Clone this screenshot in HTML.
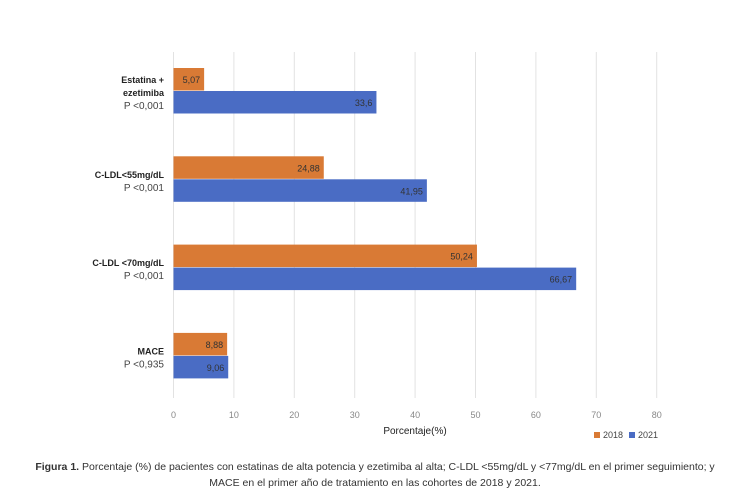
<!DOCTYPE html>
<html><head><meta charset="utf-8"><style>
body{margin:0;background:#fff;width:750px;height:500px;overflow:hidden;font-family:"Liberation Sans",sans-serif}
</style></head><body>
<svg width="750" height="500" style="position:absolute;left:0;top:0">
<g id="grid"></g><g id="bars"></g><g id="labels"></g>
<text x="415" y="434" font-size="10" text-anchor="middle" fill="#222">Porcentaje(%)</text>
<g>
<rect x="594" y="432" width="6" height="6" fill="#D97A35"/>
<text x="603" y="438" font-size="9" fill="#444">2018</text>
<rect x="629" y="432" width="6" height="6" fill="#4A6CC4"/>
<text x="638" y="438" font-size="9" fill="#444">2021</text>
</g>
<text x="375" y="470" font-size="10.5" text-anchor="middle" fill="#333"><tspan font-weight="bold">Figura 1.</tspan> Porcentaje (%) de pacientes con estatinas de alta potencia y ezetimiba al alta; C-LDL &lt;55mg/dL y &lt;77mg/dL en el primer seguimiento; y</text>
<text x="375" y="486" font-size="10.5" text-anchor="middle" fill="#333">MACE en el primer año de tratamiento en las cohortes de 2018 y 2021.</text>
</svg>
<script>
const categories=[["Estatina +","ezetimiba","P <0,001"],["C-LDL<55mg/dL","P <0,001"],["C-LDL <70mg/dL","P <0,001"],["MACE","P <0,935"]];
const values2018=[5.07,24.88,50.24,8.88];
const values2021=[33.6,41.95,66.67,9.06];
const ticks=[0,10,20,30,40,50,60,70,80];
const NS="http://www.w3.org/2000/svg";
const x=v=>173.5+v*(656.7-173.5)/80;
const groupTop=i=>68+i*88.3;
function mk(t,a,p){const e=document.createElementNS(NS,t);for(const k in a)e.setAttribute(k,a[k]);p.appendChild(e);return e;}
const G=document.getElementById('grid'),B=document.getElementById('bars'),L=document.getElementById('labels');
ticks.forEach(t=>{
 const l=mk('line',{x1:x(t),x2:x(t),y1:52,y2:398,stroke:'#e2e2e2','stroke-width':1},G);
 
 
 const tx=mk('text',{x:x(t),y:418,'font-size':9,'text-anchor':'middle',fill:'#888'},G);
 tx.textContent=t;
 
 
});
const fmt=v=>String(v).replace('.',',');
categories.forEach((c,i)=>{
 const y0=groupTop(i);
 [[values2018[i],'#D97A35',y0,'2018'],[values2021[i],'#4A6CC4',y0+23,'2021']].forEach(([v,col,y,s])=>{
  const r=mk('rect',{x:x(0),y:y,width:x(v)-x(0),height:22.5,fill:col},B);
  
  
  const t=mk('text',{x:x(v)-4,y:y+15,'font-size':9,'text-anchor':'end',fill:'#333'},B);
  t.textContent=fmt(v);
  
  
 });
 const n=c.length,mid=y0+25;
 c.forEach((line,j)=>{
  const isP=line.startsWith('P ');
  const t=mk('text',{x:164,y:mid+(j-(n-1)/2)*13+3,'font-size':isP?10:9,'text-anchor':'end',fill:isP?'#444':'#222','font-weight':isP?'normal':'bold'},L);
  t.textContent=line;
  
  
 });
});
</script>
</body></html>
